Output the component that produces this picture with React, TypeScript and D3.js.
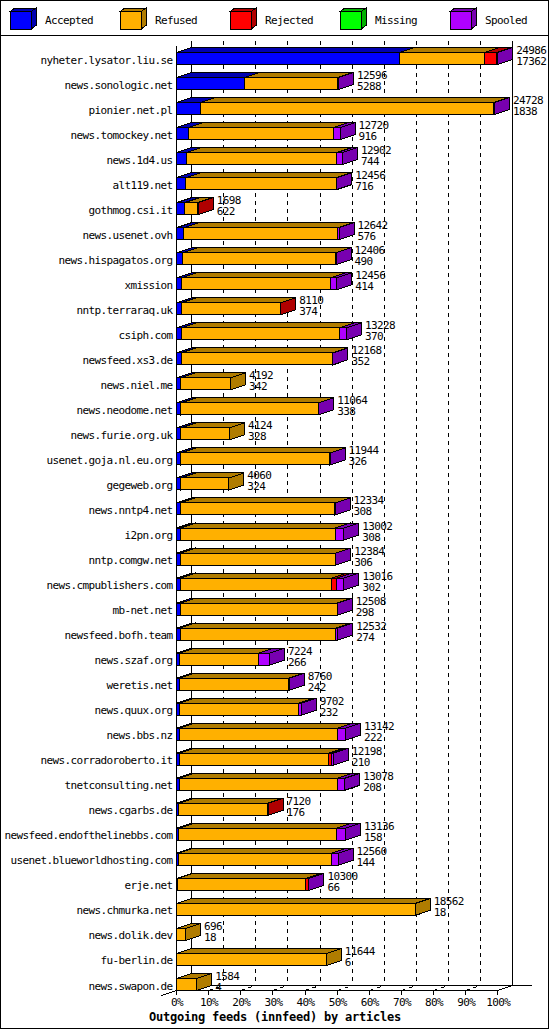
import * as d3 from "d3";

// innfeed outgoing feeds, article counts per peer
const hosts = [
  "nyheter.lysator.liu.se", "news.sonologic.net", "pionier.net.pl", "news.tomockey.net",
  "news.1d4.us", "alt119.net", "gothmog.csi.it", "news.usenet.ovh",
  "news.hispagatos.org", "xmission", "nntp.terraraq.uk", "csiph.com",
  "newsfeed.xs3.de", "news.niel.me", "news.neodome.net", "news.furie.org.uk",
  "usenet.goja.nl.eu.org", "gegeweb.org", "news.nntp4.net", "i2pn.org",
  "nntp.comgw.net", "news.cmpublishers.com", "mb-net.net", "newsfeed.bofh.team",
  "news.szaf.org", "weretis.net", "news.quux.org", "news.bbs.nz",
  "news.corradoroberto.it", "tnetconsulting.net", "news.cgarbs.de", "newsfeed.endofthelinebbs.com",
  "usenet.blueworldhosting.com", "erje.net", "news.chmurka.net", "news.dolik.dev",
  "fu-berlin.de", "news.swapon.de",
];

const offered = [
  24986, 12596, 24728, 12720, 12902, 12456, 1698, 12642, 12406, 12456, 8110, 13228,
  12168, 4192, 11064, 4124, 11944, 4060, 12334, 13002, 12384, 13016, 12508, 12532,
  7224, 8760, 9702, 13142, 12198, 13078, 7120, 13136, 12560, 10300, 18562, 696, 11644, 1584,
];

const accepted = [
  17362, 5288, 1838, 916, 744, 716, 622, 576, 490, 414, 374, 370,
  352, 342, 338, 328, 326, 324, 308, 308, 306, 302, 298, 274,
  266, 242, 232, 222, 210, 208, 176, 158, 144, 66, 18, 18, 6, 4,
];

const refused = [
  6616, 7258, 22840, 11259, 11718, 11700, 996, 11966, 11886, 11572, 7706, 12313,
  11796, 3850, 10706, 3796, 11598, 3736, 12006, 12019, 12058, 11779, 12190, 12108,
  6103, 8498, 9235, 12300, 11623, 12300, 6914, 12278, 11871, 10004, 18544, 678, 11638, 1580,
];

const rejected = [
  911, 0, 0, 0, 0, 0, 80, 0, 0, 0, 30, 0,
  0, 0, 0, 0, 0, 0, 0, 0, 0, 390, 0, 0,
  0, 0, 0, 0, 235, 0, 30, 0, 0, 210, 0, 0, 0, 0,
];

const missing = [
  0, 0, 0, 0, 0, 0, 0, 0, 0, 0, 0, 0,
  0, 0, 0, 0, 0, 0, 0, 0, 0, 0, 0, 0,
  0, 0, 0, 0, 0, 0, 0, 0, 0, 0, 0, 0, 0, 0,
];

const spooled = [
  97, 50, 50, 545, 440, 40, 0, 100, 30, 470, 0, 545,
  20, 0, 20, 0, 20, 0, 20, 675, 20, 545, 20, 150,
  855, 20, 235, 620, 130, 570, 0, 700, 545, 20, 0, 0, 0, 0,
];

const seriesNames = ["Accepted", "Refused", "Rejected", "Missing", "Spooled"];
const seriesValues = [accepted, refused, rejected, missing, spooled];
const frontColors = ["#0000ff", "#ffb000", "#ff0000", "#00ff00", "#b000ff"];
const shadeColors = ["#0000b0", "#b07c00", "#b00000", "#00b000", "#7800b0"];

const title = "Outgoing feeds (innfeed) by articles";

const W = 550;
const H = 1030;
const DX = 15;
const DY = 5;
const BAR_H = 12;
const FLOOR = 990.5;
const FONT = "'DejaVu Sans Mono', monospace";

function Box({ x0, x1, top, h, dx, dy, fill, shade }: {
  x0: number; x1: number; top: number; h: number; dx: number; dy: number; fill: string; shade: string;
}) {
  const topFace = [[x0, top], [x0 + dx, top - dy], [x1 + dx, top - dy], [x1, top]];
  const side = [[x1, top], [x1 + dx, top - dy], [x1 + dx, top + h - dy], [x1, top + h]];
  const pts = (p: number[][]) => p.map((d) => d.join(",")).join(" ");
  return (
    <g stroke="#000" strokeWidth={1}>
      <rect x={x0} y={top} width={x1 - x0} height={h} fill={fill} />
      <polygon points={pts(topFace)} fill={shade} />
      <polygon points={pts(side)} fill={shade} />
    </g>
  );
}

export default function App() {
  const maxOffered = d3.max(offered) ?? 1;
  const x = d3.scaleLinear().domain([0, maxOffered]).range([176.5, 497.8]);
  const y = d3.scalePoint<string>().domain(hosts).range([52.5, 978.5]);

  const rows = hosts.map((host, i) => {
    const row: Record<string, number | string> = { host };
    seriesNames.forEach((name, s) => (row[name] = seriesValues[s][i]));
    return row;
  });
  const stacked = d3.stack<Record<string, number | string>>().keys(seriesNames)(rows as any);

  const ticks = d3.range(0, 11).map((k) => (maxOffered * k) / 10);
  const backLeft = x(0) + DX;
  const backRight = x(maxOffered) + DX;

  return (
    <svg
      width={W}
      height={H}
      style={{ position: "absolute", left: 0, top: 0, background: "#fff" }}
      shapeRendering="crispEdges"
      fontFamily={FONT}
    >
      <rect x={0} y={0} width={W} height={H} fill="#fff" />
      <rect x={0.5} y={0.5} width={548} height={1028} fill="none" stroke="#000" />

      {/* legend */}
      <line x1={0} x2={549} y1={35.5} y2={35.5} stroke="#000" />
      {seriesNames.map((name, s) => {
        const lx = 10 + s * 110;
        return (
          <g key={name}>
            <Box x0={lx} x1={lx + 21} top={11.5} h={17.5} dx={5} dy={3.5} fill={frontColors[s]} shade={shadeColors[s]} />
            <text x={lx + 35} y={24} fontSize={11} letterSpacing={-0.62} fill="#000">{name}</text>
          </g>
        );
      })}

      {/* back plane */}
      <g stroke="#000" fill="none">
        <line x1={backLeft} x2={backLeft} y1={40.5} y2={FLOOR - DY} />
        <line x1={backRight} x2={backRight} y1={40.5} y2={FLOOR - DY} />
        <line x1={backLeft} x2={531.5} y1={FLOOR - DY} y2={FLOOR - DY} />
        {ticks.slice(1, 10).map((t) => (
          <g key={t} strokeDasharray="4 4">
            <line x1={x(t) + DX} x2={x(t) + DX} y1={40.5} y2={FLOOR - DY} />
            <line x1={x(t)} x2={x(t) + DX} y1={FLOOR} y2={FLOOR - DY} />
          </g>
        ))}
        <line x1={x(0)} x2={x(0)} y1={45.5} y2={FLOOR} />
        <line x1={x(0) - DX} x2={x(0)} y1={FLOOR + DY} y2={FLOOR} />
        <line x1={x(0)} x2={x(maxOffered)} y1={FLOOR} y2={FLOOR} />
        <line x1={x(maxOffered)} x2={backRight} y1={FLOOR} y2={FLOOR - DY} />
        {ticks.map((t) => (
          <line key={t} x1={x(t)} x2={x(t)} y1={FLOOR} y2={FLOOR + 4} />
        ))}
      </g>

      {/* bars */}
      {hosts.map((host, i) => {
        const top = y(host) ?? 0;
        return (
          <g key={host}>
            {stacked.map((series, s) => {
              const [v0, v1] = series[i];
              if (v1 - v0 <= 0) return null;
              return (
                <Box key={series.key} x0={x(v0)} x1={x(v1)} top={top} h={BAR_H} dx={DX} dy={DY}
                  fill={frontColors[s]} shade={shadeColors[s]} />
              );
            })}
          </g>
        );
      })}

      {/* labels */}
      <g fontSize={11} letterSpacing={-0.62} fill="#000" shapeRendering="auto">
        {hosts.map((host, i) => {
          const top = y(host) ?? 0;
          const tx = x(offered[i]) + DX + 3.5;
          return (
            <g key={host}>
              <text x={172.5} y={top + 11} textAnchor="end">{host}</text>
              <text x={tx} y={top + 1.5}>{offered[i]}</text>
              <text x={tx} y={top + 12.5}>{accepted[i]}</text>
            </g>
          );
        })}
        {ticks.map((t, k) => (
          <text key={t} x={x(t) + 0.5} y={1006} textAnchor="middle">{`${k * 10}%`}</text>
        ))}
      </g>

      <text x={275} y={1021} textAnchor="middle" fontSize={12} fontWeight="bold" letterSpacing={-0.22} fill="#000">
        {title}
      </text>
    </svg>
  );
}
